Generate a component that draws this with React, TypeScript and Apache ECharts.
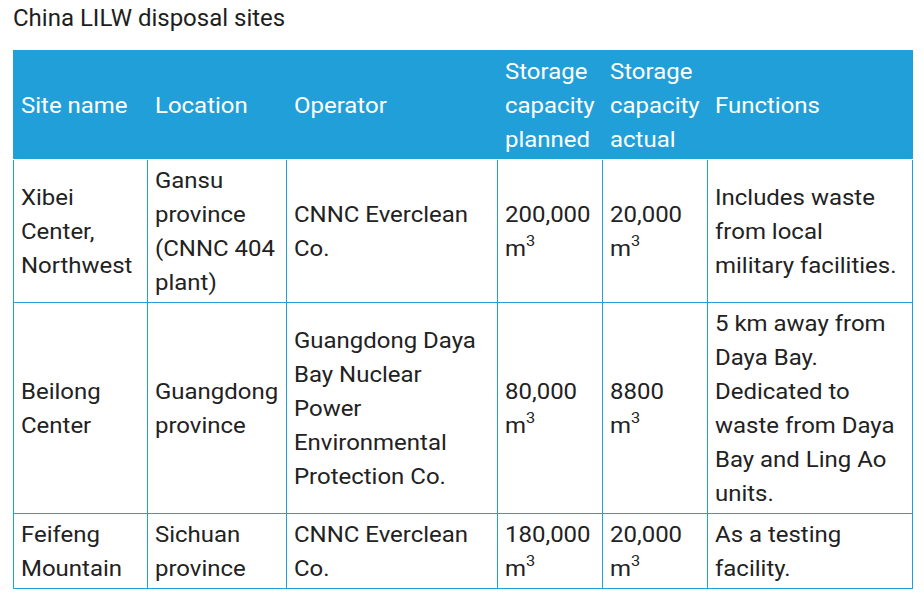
import * as echarts from 'echarts'
import React, { useEffect, useRef } from 'react'

const title = 'China LILW disposal sites'
const columns = ['Site name', 'Location', 'Operator', 'Storage\ncapacity\nplanned', 'Storage\ncapacity\nactual', 'Functions']
const siteNames = ['Xibei\nCenter,\nNorthwest', 'Beilong\nCenter', 'Feifeng\nMountain']
const locations = ['Gansu\nprovince\n(CNNC 404\nplant)', 'Guangdong\nprovince', 'Sichuan\nprovince']
const operators = [
  'CNNC Everclean\nCo.',
  'Guangdong Daya\nBay Nuclear\nPower\nEnvironmental\nProtection Co.',
  'CNNC Everclean\nCo.'
]
// m³
const plannedCapacity = ['200,000', '80,000', '180,000']
const actualCapacity = ['20,000', '8800', '20,000']
const functions = [
  'Includes waste\nfrom local\nmilitary facilities.',
  '5 km away from\nDaya Bay.\nDedicated to\nwaste from Daya\nBay and Ling Ao\nunits.',
  'As a testing\nfacility.'
]

// layout
const colEdges = [13, 147, 286, 497, 602, 707, 912]
const rowEdges = [50, 159, 302, 513, 588]
const BLUE = '#219fd9'
const TEXT = '#222'
const FONT = 'Roboto, "Noto Sans", sans-serif'
const SIZE = 22
const STRETCH = 1.09 // text in the reference renders a bit wider

const textEl = (text: string, x: number, y: number, fill: string) => ({
  type: 'text',
  x,
  y,
  scaleX: STRETCH,
  style: {
    text,
    fontSize: SIZE,
    fontFamily: FONT,
    fill,
    lineHeight: 34,
    verticalAlign: 'middle',
    rich: {
      sup: { fontSize: 15, fontFamily: FONT, fill, padding: [0, 0, 15, 0] }
    }
  }
})

const volume = (v: string) => v + '\nm{sup|3}'

const App: React.FC = () => {
  const chartRef = useRef<HTMLDivElement>(null)

  useEffect(() => {
    document.body.style.margin = '0'
    const chart = echarts.init(chartRef.current!, null, { renderer: 'svg' })
    const rows = siteNames.map((_, i) => [
      siteNames[i],
      locations[i],
      operators[i],
      volume(plannedCapacity[i]),
      volume(actualCapacity[i]),
      functions[i]
    ])

    const elements: any[] = []
    elements.push({
      type: 'text',
      x: 13,
      y: 18,
      style: { text: title, fontSize: 24, fontFamily: FONT, fill: '#1e1e1e', verticalAlign: 'middle' }
    })
    // header
    elements.push({
      type: 'rect',
      shape: { x: colEdges[0], y: rowEdges[0], width: colEdges[6] - colEdges[0] + 1, height: rowEdges[1] - rowEdges[0] },
      style: { fill: BLUE }
    })
    columns.forEach((c, j) => {
      elements.push(textEl(c, colEdges[j] + 8, (rowEdges[0] + rowEdges[1]) / 2 + 1, '#fff'))
    })
    // body grid
    colEdges.forEach((x) => {
      elements.push({
        type: 'line',
        shape: { x1: x + 0.5, y1: rowEdges[1] + 1, x2: x + 0.5, y2: rowEdges[4] + 1 },
        style: { stroke: BLUE, lineWidth: 1 }
      })
    })
    rowEdges.slice(2).forEach((y) => {
      elements.push({
        type: 'line',
        shape: { x1: colEdges[0], y1: y + 0.5, x2: colEdges[6] + 1, y2: y + 0.5 },
        style: { stroke: BLUE, lineWidth: 1 }
      })
    })
    rows.forEach((row, i) => {
      const yc = (rowEdges[i + 1] + rowEdges[i + 2]) / 2 + 1
      row.forEach((cell, j) => {
        elements.push(textEl(cell, colEdges[j] + 8, yc, TEXT))
      })
    })

    chart.setOption({
      animation: false,
      graphic: { elements }
    })
    return () => {
      chart.dispose()
    }
  }, [])

  return <div ref={chartRef} style={{ width: 924, height: 597 }} />
}

export default App
